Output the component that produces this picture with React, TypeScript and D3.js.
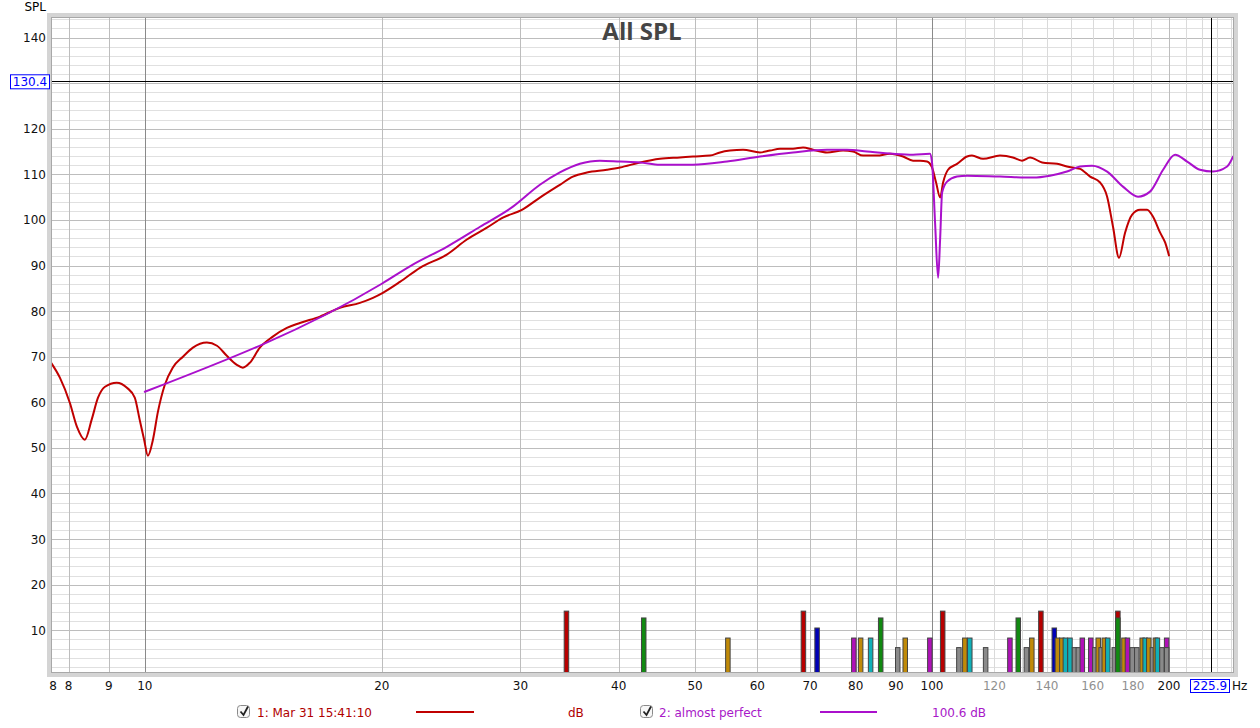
import React from "react";
import * as d3 from "d3";

// measurement 1 (red)
const redHz = [7.6, 7.8, 8.03, 8.2, 8.39, 8.56, 8.72, 8.9, 9.21, 9.49, 9.71, 9.85, 9.98, 10.09, 10.24, 10.39, 10.6, 10.85, 11.18, 11.51, 11.99, 12.35, 12.71, 13.09, 13.32, 13.6, 14.0, 14.54, 15.15, 15.74, 16.69, 17.69, 18.76, 19.49, 20.06, 21.09, 22.36, 24.19, 25.65, 27.2, 28.5, 30.13, 31.76, 33.67, 34.98, 36.44, 38.64, 40.15, 42.56, 45.13, 47.84, 49.7, 52.24, 53.79, 55.39, 57.53, 60.46, 62.27, 64.12, 66.6, 68.58, 70.61, 73.56, 77.08, 79.37, 81.73, 85.14, 88.43, 91.88, 94.6, 96.56, 98.55, 100.0, 101.2, 102.4, 103.3, 104.8, 107.6, 110.8, 112.4, 116.1, 122.0, 126.7, 130.1, 133.2, 138.0, 144.2, 148.4, 154.2, 158.8, 163.5, 166.9, 169.8, 172.8, 175.9, 179.5, 183.8, 187.6, 190.9, 194.9, 197.8, 200];
const redDb = [68.7, 65.4, 59.9, 54.6, 51.8, 56.2, 61.0, 63.4, 64.3, 63.2, 61.0, 56.2, 51.8, 48.3, 51.8, 57.9, 63.8, 67.6, 70.0, 72.0, 73.1, 72.4, 70.2, 68.2, 67.6, 68.7, 72.0, 74.4, 76.3, 77.4, 78.8, 80.7, 81.8, 82.9, 84.0, 86.4, 89.5, 92.4, 95.7, 98.3, 100.5, 102.2, 104.9, 107.7, 109.5, 110.4, 111.0, 111.5, 112.6, 113.4, 113.7, 113.9, 114.1, 114.8, 115.2, 115.4, 114.8, 115.2, 115.6, 115.6, 115.9, 115.4, 114.8, 115.2, 115.0, 114.1, 114.1, 114.5, 113.9, 113.0, 113.0, 112.8, 111.5, 108.2, 104.9, 108.2, 111.0, 112.3, 113.9, 114.1, 113.4, 114.1, 113.7, 113.0, 113.7, 112.6, 112.3, 111.7, 111.2, 109.5, 108.2, 105.1, 98.5, 91.7, 97.2, 101.1, 102.2, 102.2, 100.7, 97.2, 95.0, 92.2];

// measurement 2 (purple)
const purpleHz = [10, 20, 21.9, 24.19, 26.66, 29.35, 31.76, 33.67, 35.7, 37.85, 40.15, 42.56, 45.13, 49.7, 54.9, 60.46, 66.6, 73.56, 77.98, 82.68, 89.21, 94.6, 99.4, 100.0, 100.9, 101.8, 102.4, 103.0, 104.5, 107.6, 110.8, 122.0, 134.4, 141.2, 148.4, 154.2, 159.7, 166.9, 174.8, 182.7, 189.2, 196.6, 203.6, 210.9, 219.0, 227.5, 237.1, 241.3];
const purpleDb = [62.3, 86.0, 90.2, 94.1, 98.5, 102.9, 107.7, 110.4, 112.3, 113.0, 112.8, 112.6, 112.1, 112.1, 112.8, 113.9, 114.8, 115.4, 115.4, 115.0, 114.5, 114.3, 114.5, 112.6, 99.4, 87.3, 95.7, 106.0, 108.4, 109.5, 109.7, 109.5, 109.3, 109.7, 110.6, 111.7, 111.9, 110.6, 107.3, 105.1, 106.2, 111.0, 114.3, 112.8, 111.0, 110.6, 111.7, 113.9];

// distortion markers at the bottom
const barHz = [34.3, 43.0, 55.0, 68.6, 71.4, 79.5, 81.1, 83.5, 86.0, 90.4, 92.4, 99.3, 103.1, 108.1, 110.0, 111.6, 116.9, 125.5, 128.6, 131.7, 133.8, 137.4, 142.9, 144.2, 146.1, 147.6, 149.6, 151.6, 153.3, 155.1, 159.0, 160.9, 162.5, 163.9, 165.4, 167.1, 170.3, 172.1, 172.1, 175.2, 177.0, 179.5, 181.9, 184.8, 186.4, 188.4, 190.4, 192.1, 193.2, 195.8, 198.5, 198.5];
const barDb = [14.2, 12.7, 8.3, 14.2, 10.5, 8.3, 8.3, 8.3, 12.7, 6.2, 8.3, 8.3, 14.2, 6.2, 8.3, 8.3, 6.2, 8.3, 12.7, 6.2, 8.3, 14.2, 10.5, 8.3, 8.3, 8.3, 8.3, 6.2, 6.2, 8.3, 8.3, 6.2, 8.3, 6.2, 8.3, 8.3, 6.2, 14.2, 12.7, 8.3, 8.3, 6.2, 6.2, 8.3, 8.3, 8.3, 6.2, 8.3, 8.3, 6.2, 8.3, 6.2];
const barKind = ["red", "green", "gold", "red", "blue", "magenta", "gold", "cyan", "green", "gray", "gold", "magenta", "red", "gray", "gold", "cyan", "gray", "magenta", "green", "gray", "gold", "red", "blue", "gold", "gold", "cyan", "cyan", "gray", "gray", "magenta", "magenta", "gray", "gold", "gray", "gold", "cyan", "gray", "red", "green", "gold", "magenta", "gray", "gray", "gold", "cyan", "gold", "gray", "gold", "cyan", "gray", "magenta", "gray"];
const barColors: Record<string, string> = {
  red: "#b80000", green: "#118a11", gold: "#c08a08", blue: "#0000b8",
  cyan: "#10b0b8", magenta: "#b010b8", gray: "#8a8a8a",
};

const yTicks = d3.range(10, 150, 10);
const xTicks = [8, 9, 10, 20, 30, 40, 50, 60, 70, 80, 90, 100, 120, 140, 160, 180, 200];
const grayTickLabels = [120, 140, 160, 180];
const xGridMid = [8, 9, 20, 30, 40, 50, 60, 70, 80, 90, 200];
const xGridLight = [110, 120, 130, 140, 150, 160, 170, 180, 190, 210, 220, 230, 240];
const xGridMajor = [10, 100];
const cursorHz = 225.9;
const cursorDb = 130.4;

const left = 51, right = 1234, top = 17, bottom = 673;
const font = "DejaVu Sans, sans-serif";

export default function App() {
  const x = d3.scaleLog().domain([7.6, 241.9]).range([left, right]);
  const y = d3.scaleLinear().domain([0.63, 144.5]).range([bottom, top]);

  const line = d3.line<[number, number]>()
    .x(d => x(d[0]))
    .y(d => y(d[1]))
    .curve(d3.curveMonotoneX);
  const redPath = line(redHz.map((f, i) => [f, redDb[i]]) as [number, number][]) || "";
  const purplePath = line(purpleHz.map((f, i) => [f, purpleDb[i]]) as [number, number][]) || "";

  const hGrid = d3.range(2, 145, 2);
  // the cursor readout box hides the tick label underneath it
  const shownYTicks = yTicks.filter(v => Math.abs(y(v) - y(cursorDb)) > 12);

  return (
    <div style={{ position: "absolute", left: 0, top: 0 }}>
      <svg width={1260} height={728} style={{ display: "block", background: "#fff" }} fontFamily={font}>
        <defs>
          <clipPath id="plot">
            <rect x={left} y={top} width={right - left} height={bottom - top} />
          </clipPath>
        </defs>

        {/* frame shadow */}
        <rect x={left - 2} y={top - 2} width={right - left + 4} height={bottom - top + 4} fill="none" stroke="#d4d4d4" strokeWidth={4} />
        <rect x={left} y={top} width={right - left} height={bottom - top} fill="#fff" />

        {/* grid */}
        {hGrid.map(v => (
          <line key={"h" + v} x1={left} x2={right} y1={Math.round(y(v)) + 0.5} y2={Math.round(y(v)) + 0.5}
            stroke={v % 10 === 0 ? "#bdbdbd" : "#e0e0e0"} strokeWidth={1} />
        ))}
        {xGridLight.map(f => (
          <line key={"vl" + f} x1={Math.round(x(f)) + 0.5} x2={Math.round(x(f)) + 0.5} y1={top} y2={bottom} stroke="#dadada" />
        ))}
        {xGridMid.map(f => (
          <line key={"vm" + f} x1={Math.round(x(f)) + 0.5} x2={Math.round(x(f)) + 0.5} y1={top} y2={bottom} stroke="#bdbdbd" />
        ))}
        {xGridMajor.map(f => (
          <line key={"vM" + f} x1={Math.round(x(f)) + 0.5} x2={Math.round(x(f)) + 0.5} y1={top} y2={bottom} stroke="#8a8a8a" />
        ))}

        {/* title */}
        <text x={642} y={40} textAnchor="middle" fontFamily="Open Sans, sans-serif" fontWeight={700} fontSize={24} fill="#454545">All SPL</text>

        {/* distortion bars */}
        <g clipPath="url(#plot)">
          {barHz.map((f, i) => (
            <rect key={"b" + i} x={x(f) - 2} y={y(barDb[i])} width={4.5} height={bottom - y(barDb[i])}
              fill={barColors[barKind[i]]} stroke="#444" strokeWidth={1} />
          ))}
        </g>

        {/* curves */}
        <g clipPath="url(#plot)" fill="none" strokeLinejoin="round" strokeLinecap="round">
          <path d={redPath} stroke="#c00000" strokeWidth={2} />
          <path d={purplePath} stroke="#aa10cc" strokeWidth={2} />
        </g>

        {/* cursors */}
        <line x1={left} x2={right} y1={Math.round(y(cursorDb)) + 0.5} y2={Math.round(y(cursorDb)) + 0.5} stroke="#000" />
        <line x1={Math.round(x(cursorHz)) + 0.5} x2={Math.round(x(cursorHz)) + 0.5} y1={top} y2={bottom} stroke="#000" />

        {/* plot border */}
        <rect x={left + 0.5} y={top + 0.5} width={right - left - 1} height={bottom - top - 1} fill="none" stroke="#a8a8a8" />

        {/* y axis */}
        <text x={46} y={11} textAnchor="end" fontSize={12} fill="#000">SPL</text>
        {shownYTicks.map(v => (
          <text key={"yt" + v} x={46} y={y(v) + 4.5} textAnchor="end" fontSize={12} fill="#111">{v}</text>
        ))}
        <rect x={10.5} y={y(cursorDb) - 6.5} width={39} height={14} fill="#fff" stroke="#0000ff" />
        <text x={30} y={y(cursorDb) + 4.5} textAnchor="middle" fontSize={12} fill="#0000ff">{cursorDb.toFixed(1)}</text>

        {/* x axis */}
        <text x={left + 2} y={690} textAnchor="middle" fontSize={12} fill="#111">8</text>
        {xTicks.map(f => (
          <text key={"xt" + f} x={x(f)} y={690} textAnchor="middle" fontSize={12}
            fill={grayTickLabels.includes(f) ? "#909090" : "#111"}>{f}</text>
        ))}
        <rect x={1190.5} y={679.5} width={39} height={13} fill="#fff" stroke="#0000ff" />
        <text x={1210} y={690} textAnchor="middle" fontSize={12} fill="#0000ff">{cursorHz.toFixed(1)}</text>
        <text x={1232} y={690} fontSize={12} fill="#111">Hz</text>

        {/* legend */}
        <g>
          <rect x={237.5} y={705.5} width={12} height={12} rx={3} fill="#f7f7f7" stroke="#8a8a8a" />
          <path d="M240.5,711.5 L243.5,715 L248,706.5" fill="none" stroke="#222" strokeWidth={1.8} />
          <text x={257} y={716.5} fontSize={12} fill="#b00000">1: Mar 31 15:41:10</text>
          <line x1={416} x2={474} y1={712} y2={712} stroke="#c00000" strokeWidth={2} />
          <text x={568} y={716.5} fontSize={12} fill="#b00000">dB</text>

          <rect x={640.5} y={705.5} width={12} height={12} rx={3} fill="#f7f7f7" stroke="#8a8a8a" />
          <path d="M643.5,711.5 L646.5,715 L651,706.5" fill="none" stroke="#222" strokeWidth={1.8} />
          <text x={659} y={716.5} fontSize={12} fill="#a818c8">2: almost perfect</text>
          <line x1={820} x2={877} y1={712} y2={712} stroke="#aa10cc" strokeWidth={2} />
          <text x={932} y={716.5} fontSize={12} fill="#a818c8">100.6 dB</text>
        </g>
      </svg>
    </div>
  );
}
